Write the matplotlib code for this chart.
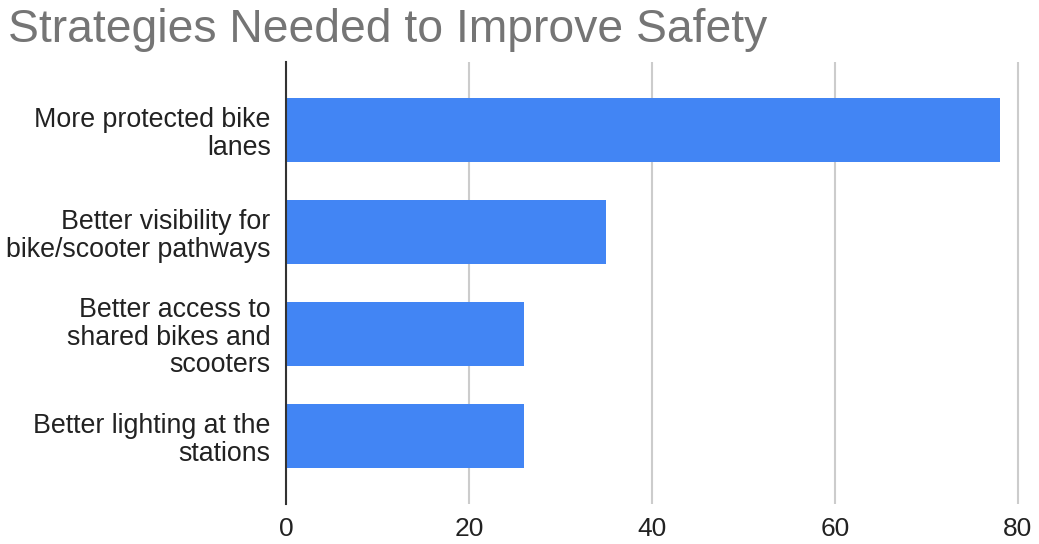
import matplotlib.pyplot as plt

# Survey responses: strategies needed to improve safety
categories = [
    "More protected bike\nlanes",
    "Better visibility for\nbike/scooter pathways",
    "Better access to\nshared bikes and\nscooters",
    "Better lighting at the\nstations",
]
counts = [78, 35, 26, 26]
x_ticks = [0, 20, 40, 60, 80]

plt.rcParams['font.family'] = ['Liberation Sans', 'DejaVu Sans']

fig = plt.figure(figsize=(10.39, 5.44), dpi=100)
ax = fig.add_axes([286 / 1039, 40 / 544, 1 - 286 / 1039, 442 / 544])

y_pos = list(range(len(categories)))
ax.barh(y_pos, counts, height=0.63, color='#4285F4', zorder=3)

ax.set_xlim(0, 82.3)
ax.set_ylim(len(categories) - 1 + 0.667, -0.667)

ax.set_yticks(y_pos)
ax.set_yticklabels(categories, fontsize=19.3, color='#222222', linespacing=1.08)
ax.set_xticks(x_ticks)
ax.set_xticklabels([str(t) for t in x_ticks], fontsize=19, color='#222222')
ax.tick_params(axis='both', length=0)
ax.tick_params(axis='y', pad=11)
ax.tick_params(axis='x', pad=9)

ax.grid(axis='x', color='#cccccc', linewidth=1.5, zorder=0)
for side in ['top', 'right', 'bottom']:
    ax.spines[side].set_visible(False)
ax.spines['left'].set_color('#333333')
ax.spines['left'].set_linewidth(1.5)
ax.spines['left'].set_zorder(4)

fig.text(8 / 1039, 1 - 42 / 544, "Strategies Needed to Improve Safety",
         fontsize=33.3, color='#757575', va='baseline', ha='left')

fig.savefig('out.png', dpi=100)
